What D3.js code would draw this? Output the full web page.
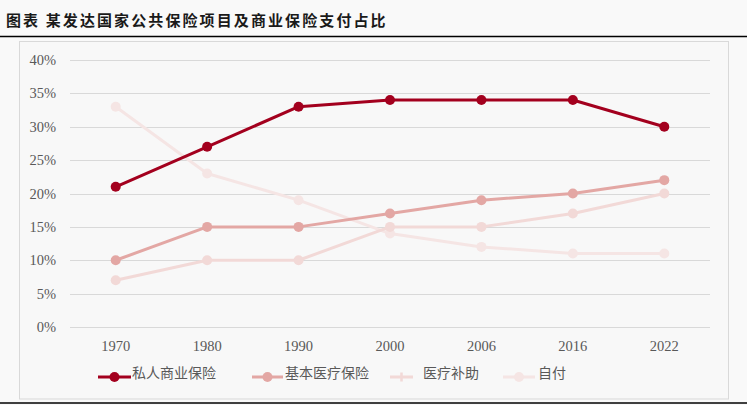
<!DOCTYPE html>
<html><head><meta charset="utf-8">
<script src="https://cdn.jsdelivr.net/npm/d3@7"></script>
<style>
html,body{margin:0;padding:0;background:#f9f9f9;}
svg{display:block;}
</style></head>
<body>
<svg id="c" width="747" height="405"></svg>
<script>
const title = "图表 某发达国家公共保险项目及商业保险支付占比";
const years = ["1970","1980","1990","2000","2006","2016","2022"];
const seriesNames = ["私人商业保险","基本医疗保险","医疗补助","自付"];
const privateIns = [21,27,33,34,34,34,30];
const basicMed = [10,15,15,17,19,20,22];
const medicaid = [7,10,10,15,15,17,20];
const outOfPocket = [33,23,19,14,12,11,11];
const yTicks = [0,5,10,15,20,25,30,35,40];
const colors = ["#a3001e","#e3a7a4","#f2d9d7","#f5e5e4"];
const seriesData = [privateIns, basicMed, medicaid, outOfPocket];

const svg = d3.select("#c");
svg.append("rect").attr("width",747).attr("height",405).attr("fill","#f9f9f9");

svg.append("text").attr("x",6).attr("y",26)
  .attr("font-family","'Noto Sans CJK SC'").attr("font-weight","bold")
  .attr("font-size",15).attr("letter-spacing","2.1px").attr("fill","#1a1a1a").text(title);
svg.append("line").attr("x1",0).attr("x2",747).attr("y1",36.5).attr("y2",36.5)
  .attr("stroke","#000").attr("stroke-width",1.5);
svg.append("line").attr("x1",0).attr("x2",747).attr("y1",403).attr("y2",403)
  .attr("stroke","#000").attr("stroke-width",1.5);

svg.append("rect").attr("x",19.5).attr("y",41.5).attr("width",709).attr("height",357.5)
  .attr("fill","#f8f8f8").attr("stroke","#d9d9d9").attr("stroke-width",1);

const x = d3.scaleBand().domain(years).range([70,710]);
const y = d3.scaleLinear().domain([0,40]).range([327,60]);

const g = svg.append("g");
g.selectAll("line.grid").data(yTicks).join("line")
  .attr("x1",70).attr("x2",710)
  .attr("y1",d=>Math.round(y(d))+0.5).attr("y2",d=>Math.round(y(d))+0.5)
  .attr("stroke","#d9d9d9").attr("stroke-width",1);

g.selectAll("text.yl").data(yTicks).join("text")
  .attr("x",56).attr("y",d=>y(d)+5).attr("text-anchor","end")
  .attr("font-family","'Liberation Serif'").attr("font-size",14.5).attr("fill","#595959")
  .text(d=>d+"%");

g.selectAll("text.xl").data(years).join("text")
  .attr("x",d=>x(d)+x.bandwidth()/2).attr("y",351).attr("text-anchor","middle")
  .attr("font-family","'Liberation Serif'").attr("font-size",14.5).attr("fill","#595959")
  .text(d=>d);

const line = d3.line().x((d,i)=>x(years[i])+x.bandwidth()/2).y(d=>y(d));
[3,2,1,0].forEach(k=>{
  const s = svg.append("g");
  s.append("path").attr("d",line(seriesData[k])).attr("fill","none")
    .attr("stroke",colors[k]).attr("stroke-width",3).attr("stroke-linejoin","round");
  s.selectAll("circle").data(seriesData[k]).join("circle")
    .attr("cx",(d,i)=>x(years[i])+x.bandwidth()/2).attr("cy",d=>y(d)).attr("r",5)
    .attr("fill",colors[k]);
});

// legend
const legendItems = [
  {lx:98, tx:132, w:33},
  {lx:252, tx:285, w:31},
  {lx:390, tx:423, w:23},
  {lx:503, tx:538, w:32}
];
const ly = 377;
legendItems.forEach((it,k)=>{
  const lg = svg.append("g");
  lg.append("line").attr("x1",it.lx).attr("x2",it.lx+it.w).attr("y1",ly).attr("y2",ly)
    .attr("stroke",colors[k]).attr("stroke-width",3);
  if(k===2){
    lg.append("line").attr("x1",it.lx+it.w/2).attr("x2",it.lx+it.w/2).attr("y1",ly-4.5).attr("y2",ly+4.5)
      .attr("stroke",colors[k]).attr("stroke-width",2.5);
  } else {
    lg.append("circle").attr("cx",it.lx+it.w/2).attr("cy",ly).attr("r",5).attr("fill",colors[k]);
  }
  lg.append("text").attr("x",it.tx).attr("y",ly+1).attr("font-family","'Noto Sans CJK SC'")
    .attr("font-size",14).attr("fill","#595959").text(seriesNames[k]);
});
</script>
</body></html>
